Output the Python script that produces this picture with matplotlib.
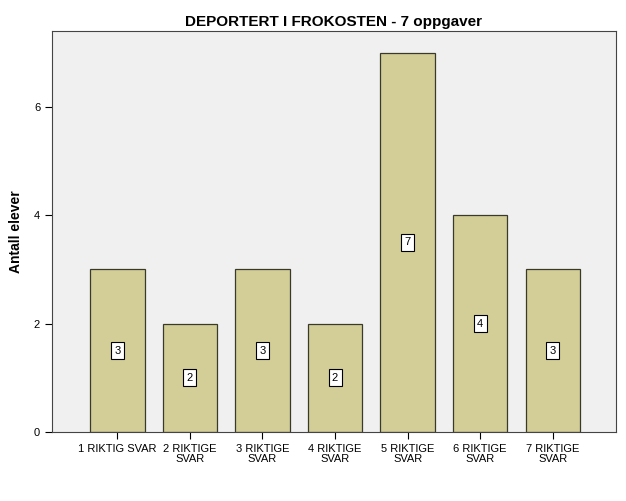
import matplotlib
matplotlib.use("Agg")
import matplotlib.pyplot as plt

# Data
categories = ["1 RIKTIG SVAR", "2 RIKTIGE\nSVAR", "3 RIKTIGE\nSVAR", "4 RIKTIGE\nSVAR",
              "5 RIKTIGE\nSVAR", "6 RIKTIGE\nSVAR", "7 RIKTIGE\nSVAR"]
counts = [3, 2, 3, 2, 7, 4, 3]
y_ticks = [0, 2, 4, 6]

plt.rcParams["font.family"] = ["Liberation Sans", "DejaVu Sans"]

fig = plt.figure(figsize=(6.26, 5.01), dpi=100)
ax = fig.add_axes([0.083, 0.138, 0.901, 0.800])
ax.set_facecolor("#F0F0F0")

x = list(range(len(categories)))
ax.bar(x, counts, width=0.75, color="#D3CE97", edgecolor="#3A3A2A", linewidth=0.9, zorder=2)

# Value labels in boxes at half height
for xi, c in zip(x, counts):
    ax.text(xi, c / 2, str(c), ha="center", va="center", fontsize=8, zorder=3,
            bbox=dict(boxstyle="square,pad=0.3", facecolor="white", edgecolor="black", linewidth=0.8))

ax.set_xlim(-0.9, 6.87)
ax.set_ylim(0, 7.4)
ax.set_xticks(x)
ax.set_xticklabels(categories, fontsize=8, linespacing=1.1)
ax.set_yticks(y_ticks)
ax.set_yticklabels([str(t) for t in y_ticks], fontsize=8)
ax.tick_params(axis="both", direction="out", length=5, width=0.8, colors="black")
for side in ["top", "right", "bottom", "left"]:
    ax.spines[side].set_linewidth(0.8)
    ax.spines[side].set_color("#444444")

ax.set_ylabel("Antall elever", fontsize=10, fontweight="bold", labelpad=8)
ax.set_title("DEPORTERT I FROKOSTEN - 7 oppgaver", fontsize=11, fontweight="bold", pad=4)

fig.savefig("out.png", dpi=100)
